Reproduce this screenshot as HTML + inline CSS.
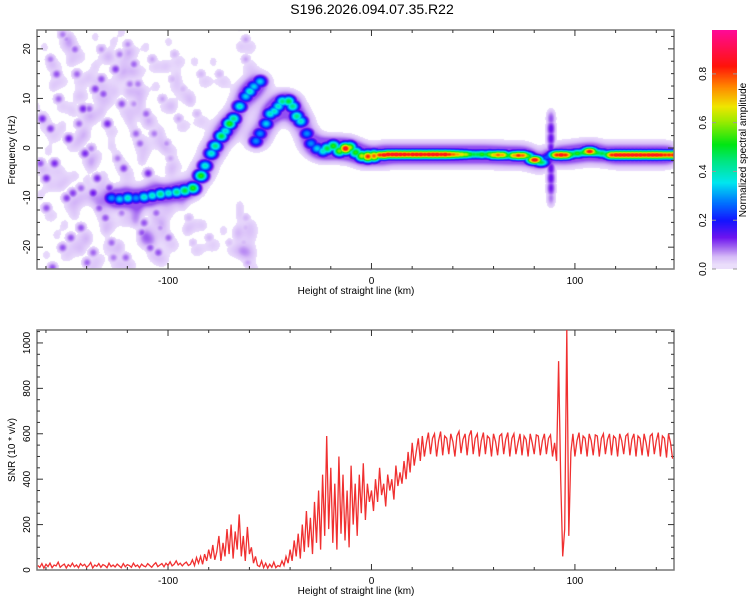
<!DOCTYPE html>
<html><head><meta charset="utf-8"><style>
body{margin:0;background:#fff;width:750px;height:600px;overflow:hidden;font-family:"Liberation Sans",sans-serif;}
#wrap{position:relative;width:750px;height:600px;}
canvas{position:absolute;}
svg{position:absolute;left:0;top:0;}
text{font-family:"Liberation Sans",sans-serif;fill:#000;}
</style></head><body><div id="wrap">
<canvas id="spec" width="637" height="239" style="left:37px;top:30px"></canvas>
<canvas id="cbar" width="25" height="239" style="left:712px;top:30px"></canvas>
<svg id="svg" width="750" height="600"></svg>
</div>
<script>
// ---- data ----
const ridgeKm=[-128,-124,-120,-116,-112,-108,-104,-100,-96,-92,-88,-84,-82,-79,-77,-74,-72,-70,-68,-65,-62,-60,-58,-55,
-57,-55,-52,-50,-48,-46,-44,-41,-39,-37,-35,-32,-30,-27,-24,-22,-19,-16,-13,-11,-8,-5,-2,1];
const ridgeHz=[-10,-10.2,-10,-10,-9.8,-9.5,-9.2,-9,-8.8,-8.5,-8,-5.5,-3.5,-1,0.5,2.5,3.5,5,6,8.5,10.5,11.5,12.5,13.5,
1.5,3,5,7,7.5,8.5,9.5,9.5,8.5,6.5,5.5,3,1,0,-0.5,0,0.5,-0.5,0,0.2,-0.8,-1.5,-1.6,-1.5];
const ridgeAmp=[0.3,0.35,0.4,0.3,0.4,0.4,0.45,0.4,0.45,0.5,0.55,0.55,0.4,0.4,0.45,0.5,0.4,0.55,0.45,0.4,0.35,0.4,0.35,0.35,
0.3,0.3,0.35,0.4,0.4,0.4,0.45,0.5,0.45,0.45,0.4,0.3,0.3,0.35,0.4,0.5,0.55,0.6,0.9,0.65,0.55,0.65,0.85,0.8];
const lineKm=[4,6,8,10,12,14,16,18,20,22,24,26,28,30,32,34,36,38,40,42,44,46,48,50,52,54,56,58,60,62,64,66,68,70,72,74,76,78,80,83,86,88,91,93,95,97,99,101,103,105,107,109,111,113,116,118,120,122,124,126,128,130,132,134,136,138,140,142,144,146,148];
const lineHz=[-1.3,-1.3,-1.2,-1.2,-1.2,-1.2,-1.2,-1.2,-1.2,-1.2,-1.2,-1.2,-1.2,-1.2,-1.2,-1.2,-1.2,-1.2,-1.2,-1.2,-1.2,-1.2,-1.2,-1.2,-1.2,-1.2,-1.2,-1.2,-1.3,-1.3,-1.3,-1.4,-1.4,-1.4,-1.4,-1.4,-1.5,-1.8,-2.3,-2.8,-1.8,-1.5,-1.3,-1.3,-1.3,-1.2,-1.1,-1.0,-0.9,-0.8,-0.6,-0.8,-0.9,-1.0,-1.2,-1.3,-1.3,-1.3,-1.3,-1.3,-1.3,-1.3,-1.3,-1.3,-1.3,-1.3,-1.3,-1.3,-1.3,-1.3,-1.3];
const lineAmp=[0.85,0.9,0.9,0.9,0.92,0.9,0.9,0.88,0.9,0.9,0.9,0.88,0.9,0.9,0.9,0.88,0.9,0.85,0.8,0.75,0.7,0.65,0.55,0.5,0.5,0.55,0.5,0.6,0.72,0.8,0.75,0.55,0.5,0.75,0.85,0.8,0.6,0.45,0.9,0.5,0.25,0.3,0.85,0.9,0.85,0.6,0.5,0.55,0.5,0.6,0.88,0.6,0.5,0.5,0.55,0.85,0.9,0.9,0.9,0.9,0.9,0.9,0.9,0.88,0.9,0.9,0.9,0.88,0.85,0.85,0.85];
const spikeKm=[88,88,88,88,88,88,88,88,88];
const spikeHz=[6,4,2,0,-2,-4,-6,-8,-10];
const spikeAmp=[0.1,0.14,0.14,0.14,0.14,0.14,0.14,0.13,0.08];
const noiseKm=[-162,-160,-158,-156,-154,-152,-150,-149,-147,-145,-143,-142,-140,-138,-136,-135,-133,-131,-130,-128,-126,-125,-123,-121,-120,-118,-116,-115,-113,-111,-110,-108,-106,-105,-103,-101,-100,-98,-96,-95,-160,-155,-150,-146,-141,-137,-132,-127,-122,-117,-112,-107,-102,-158,-148,-139,-129,-119,-109,-99,-152,-144,-134,-124,-114,-104,-93,-90,-86,-80,-75,-62,-62,-62,-63,-61,-62,-63,-163,-143,-133,-123,-113,-157,-137,-117,-97,-88,-84,-70];
const noiseHz=[6,-12,18,-3,10,-20,22,2,-9,15,-16,8,-23,0,12,-6,20,-14,5,-19,16,-2,9,-22,21,-11,3,13,-17,7,-5,18,-13,-21,10,1,-18,14,-7,6,-6,15,-10,20,-1,-9,11,-22,-4,17,-15,3,-11,4,-18,8,-8,13,-20,-2,23,5,-12,19,1,-16,12,-14,7,-18,15,22,18,-14,-20,-23,-16,-19,-3,-8,14,-13,-17,-24,-21,9,19,-19,15,-19];
const noiseAmp=[0.12,0.1,0.08,0.12,0.09,0.1,0.07,0.13,0.11,0.09,0.1,0.12,0.09,0.08,0.11,0.12,0.07,0.1,0.12,0.09,0.11,0.08,0.1,0.09,0.07,0.11,0.09,0.08,0.1,0.09,0.12,0.06,0.09,0.1,0.06,0.07,0.09,0.05,0.07,0.06,0.12,0.1,0.11,0.09,0.12,0.13,0.1,0.08,0.11,0.09,0.1,0.08,0.07,0.11,0.1,0.09,0.12,0.08,0.1,0.06,0.08,0.09,0.1,0.08,0.09,0.07,0.05,0.05,0.05,0.05,0.05,0.06,0.06,0.05,0.06,0.06,0.05,0.05,0.1,0.09,0.1,0.08,0.09,0.1,0.09,0.07,0.05,0.04,0.05,0.04];
const snrStartKm=-164;
const snrValues=[20,12,28,8,25,15,30,10,22,18,35,12,20,26,9,24,15,30,14,22,10,28,18,25,12,20,33,9,22,16,28,12,24,19,10,30,15,22,13,26,18,10,28,14,24,20,12,30,16,22,10,26,18,14,28,20,12,24,32,15,22,28,14,30,20,36,18,25,40,22,30,18,28,35,20,
25,45,20,55,30,60,25,70,40,90,50,110,45,80,150,40,120,60,180,70,200,50,170,90,245,60,150,40,190,70,100,30,60,20,
15,40,10,30,8,25,12,35,10,20,15,40,20,60,30,
90,40,130,60,160,50,200,80,260,100,230,70,300,120,350,90,420,150,590,180,
450,120,380,90,500,160,420,130,350,100,460,200,380,150,420,250,470,220,380,300,
350,260,400,300,450,330,380,280,420,350,400,310,460,370,430,380,480,400,520,430,560,460,520,580,480,
590,500,560,605,510,580,600,500,570,610,505,590,580,510,600,565,500,590,610,515,575,600,505,590,615,510,580,600,500,570,605,510,590,580,500,600,565,505,590,600,510,575,605,500,580,600,510,560,600,505,590,575,500,600,560,510,595,590,505,570,600,510,580,595,500,560,480,
920,400,60,180,1057,150,
520,600,500,570,605,510,590,580,500,600,570,505,595,590,500,580,600,510,575,600,505,590,580,500,600,570,510,590,600,505,575,600,500,590,580,505,600,560,500,590,600,510,570,605,500,590,580,495,600,560,490];
const xTicks=[-100,0,100];
const fTicks=[-20,-10,0,10,20];
const snrTicks=[0,200,400,600,800,1000];
const cbTicks=[0.0,0.2,0.4,0.6,0.8];

// ---- axes ----
const X0=37,X1=674,KM0=-164.4,KM1=148.7;
const xs=k=>X0+(k-KM0)/(KM1-KM0)*(X1-X0);
const T0=30,T1=269,F0=-24.4,F1=23.8;
const yf=f=>T1-(f-F0)/(F1-F0)*(T1-T0);
const B0=330,B1=570,S0=0,S1=1057;
const ys=v=>B1-(v-S0)/(S1-S0)*(B1-B0);

// ---- colormap ----
const stops=[[0,255,255,255],[0.015,236,224,252],[0.05,214,186,248],[0.09,160,100,240],[0.13,110,20,240],[0.2,20,20,255],[0.28,0,120,255],[0.36,0,230,240],[0.45,0,230,130],[0.52,0,230,20],[0.62,160,235,0],[0.68,240,230,0],[0.76,255,140,0],[0.85,255,20,10],[1,255,10,150]];
function cmap(v){if(v<=0)return [255,255,255];if(v>=1)v=1;
 for(let i=1;i<stops.length;i++){if(v<=stops[i][0]){const a=stops[i-1],b=stops[i],t=(v-a[0])/(b[0]-a[0]);return [a[1]+(b[1]-a[1])*t,a[2]+(b[2]-a[2])*t,a[3]+(b[3]-a[3])*t];}}return [255,10,150];}

// ---- spectrogram ----
const blobs=[],soft=[];
function add(k,f,a,sx,sy){blobs.push([xs(k)-X0,yf(f)-T0,a,sx,sy]);}
function addSoft(k,f,a,sx,sy){soft.push([xs(k)-X0,yf(f)-T0,a,sx,sy]);}
for(let i=0;i<ridgeKm.length;i++){add(ridgeKm[i],ridgeHz[i],ridgeAmp[i],5,4.2);addSoft(ridgeKm[i],ridgeHz[i],0.07,8,7);}
for(let i=0;i<lineKm.length;i++){add(lineKm[i],lineHz[i],lineAmp[i],6,3.2);addSoft(lineKm[i],lineHz[i],0.05,5,6);addSoft(lineKm[i],lineHz[i],0.012,6,10);}
for(let i=0;i<spikeKm.length;i++){add(spikeKm[i],spikeHz[i],spikeAmp[i],3,6);}
for(let i=0;i<noiseKm.length;i++){add(noiseKm[i],noiseHz[i],noiseAmp[i],3.5,3.5);addSoft(noiseKm[i]+2,noiseHz[i]-1.5,0.03,6,6);addSoft(noiseKm[i]-3,noiseHz[i]+2.5,0.025,4,5);}
const cv=document.getElementById('spec'),ctx=cv.getContext('2d'),W=cv.width,H=cv.height,img=ctx.createImageData(W,H);
for(let y=0;y<H;y++)for(let x=0;x<W;x++){let m=0,s=0;
 for(const b of blobs){const dx=(x-b[0])/b[3];if(dx>3||dx<-3)continue;const dy=(y-b[1])/b[4];if(dy>3||dy<-3)continue;const v=b[2]*Math.exp(-(dx*dx+dy*dy)/2);if(v>m)m=v;}
 for(const b of soft){const dx=(x-b[0])/b[3];if(dx>3||dx<-3)continue;const dy=(y-b[1])/b[4];if(dy>3||dy<-3)continue;s+=b[2]*Math.exp(-(dx*dx+dy*dy)/2);}
 const t=Math.max(m,Math.min(s,0.1));
 const c=t<0.018?[255,255,255]:cmap(t);const o=(y*W+x)*4;img.data[o]=c[0];img.data[o+1]=c[1];img.data[o+2]=c[2];img.data[o+3]=255;}
ctx.putImageData(img,0,0);
const cb=document.getElementById('cbar').getContext('2d');
for(let y=0;y<239;y++){const c=cmap(Math.max(0.016,1-y/238));cb.fillStyle=`rgb(${c[0]|0},${c[1]|0},${c[2]|0})`;cb.fillRect(0,y,25,1);}

// ---- svg ----
const svg=document.getElementById('svg'),NS='http://www.w3.org/2000/svg';
function el(t,at,txt){const e=document.createElementNS(NS,t);for(const k in at)e.setAttribute(k,at[k]);if(txt!==undefined)e.textContent=txt;svg.appendChild(e);return e;}
let e;
e=el('text',{x:372,y:14,'text-anchor':'middle','font-size':14},'S196.2026.094.07.35.R22');


function frame(top,bot,name){
 e=el('rect',{x:X0,y:top,width:X1-X0,height:bot-top,fill:'none',stroke:'#777','stroke-width':1.5});
 
 
 for(let k=-160;k<=140;k+=20){const x=xs(k),L=(k%100===0)?6:3;
  el('line',{x1:x,y1:bot,x2:x,y2:bot-L,stroke:'#333'});el('line',{x1:x,y1:top,x2:x,y2:top+L,stroke:'#333'});}
}
frame(T0,T1,'spectrogram-frame');
frame(B0,B1,'snr-frame');
for(const k of xTicks){
 e=el('text',{x:xs(k),y:284,'text-anchor':'middle','font-size':10},String(k));
 
 
 e=el('text',{x:xs(k),y:584,'text-anchor':'middle','font-size':10},String(k));
 
 
}
for(let f=-22.5;f<=22.5;f+=2.5){const y=yf(f),L=(f%10===0)?6:3;el('line',{x1:X0,y1:y,x2:X0+L,y2:y,stroke:'#333'});el('line',{x1:X1,y1:y,x2:X1-L,y2:y,stroke:'#333'});}
for(const f of fTicks){const y=yf(f);
 e=el('text',{x:30,y:y,'text-anchor':'middle','font-size':10,transform:`rotate(-90 30 ${y})`},String(f));
 
 }
for(let v=50;v<=1050;v+=50){const y=ys(v),L=(v%200===0)?6:3;el('line',{x1:X0,y1:y,x2:X0+L,y2:y,stroke:'#333'});el('line',{x1:X1,y1:y,x2:X1-L,y2:y,stroke:'#333'});}
for(const v of snrTicks){const y=ys(v);
 e=el('text',{x:30,y:y,'text-anchor':'middle','font-size':10,transform:`rotate(-90 30 ${y})`},String(v));
 
 }
e=el('text',{x:15,y:150,'text-anchor':'middle','font-size':10,transform:'rotate(-90 15 150)'},'Frequency (Hz)');


e=el('text',{x:15,y:450,'text-anchor':'middle','font-size':10,transform:'rotate(-90 15 450)'},'SNR (10 * v/v)');


e=el('text',{x:356,y:294,'text-anchor':'middle','font-size':10},'Height of straight line (km)');


e=el('text',{x:356,y:594,'text-anchor':'middle','font-size':10},'Height of straight line (km)');


for(const v of cbTicks){const y=269-v/0.98*239;
 el('line',{x1:712,y1:y,x2:716,y2:y,stroke:'#999'});el('line',{x1:733,y1:y,x2:737,y2:y,stroke:'#999'});
 e=el('text',{x:706,y:y,'text-anchor':'middle','font-size':10,transform:`rotate(-90 706 ${y})`},v.toFixed(1));
 
 }
e=el('text',{x:746,y:150,'text-anchor':'middle','font-size':10,transform:'rotate(-90 746 150)'},'Normalized spectral amplitude');


let d='';snrValues.forEach((v,i)=>{const x=xs(snrStartKm+i),y=ys(v);d+=(i?'L':'M')+x.toFixed(1)+' '+y.toFixed(1);});
e=el('path',{d:d,fill:'none',stroke:'#f03030','stroke-width':1.3});


</script></body></html>
